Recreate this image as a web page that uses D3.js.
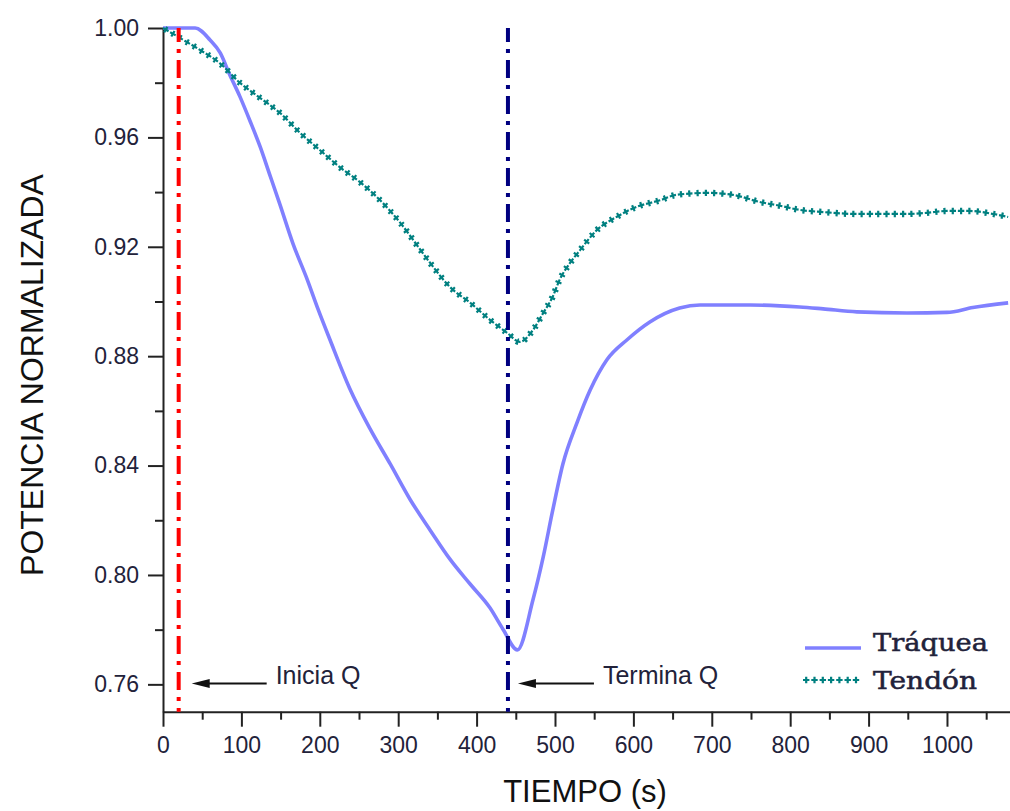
<!DOCTYPE html>
<html>
<head>
<meta charset="utf-8">
<script src="https://cdn.jsdelivr.net/npm/d3@7"></script>
<style>
  html, body { margin: 0; padding: 0; background: #fff; }
  svg { display: block; }
  .tick text { font-family: "Liberation Sans", Arial, sans-serif; font-size: 23px; fill: #22223a; }
</style>
</head>
<body>
<svg id="chart" width="1010" height="811"></svg>
<script>
// Time (s) and normalized power for each tissue
const traqueaTime = [0, 41, 60, 73, 85, 98, 111, 124, 136, 149, 166, 184, 198, 213, 238, 264, 290, 315, 341, 366, 392, 417, 434, 452, 472, 485, 497, 510, 528, 545, 566, 592, 621, 659, 685, 749, 812, 842, 885, 949, 1000, 1033, 1078];
const traqueaValue = [1.000, 1.000, 0.9956, 0.9909, 0.983, 0.975, 0.966, 0.9565, 0.9465, 0.9356, 0.921, 0.908, 0.897, 0.886, 0.8683, 0.8535, 0.8405, 0.8277, 0.8163, 0.8058, 0.7966, 0.7880, 0.7800, 0.7726, 0.791, 0.8066, 0.8235, 0.8405, 0.8556, 0.8677, 0.8786, 0.886, 0.8925, 0.8976, 0.8987, 0.8987, 0.898, 0.8973, 0.8962, 0.8958, 0.8960, 0.8978, 0.8995];

const tendonTime = [0, 22, 47, 73, 98, 124, 149, 175, 200, 226, 251, 277, 302, 328, 341, 366, 392, 417, 439, 455, 472, 485, 497, 506, 519, 532, 553, 579, 604, 634, 655, 694, 727, 761, 787, 812, 842, 885, 949, 974, 1000, 1029, 1059, 1078];
const tendonValue = [1.000, 0.9963, 0.992, 0.987, 0.980, 0.9744, 0.969, 0.9616, 0.9554, 0.949, 0.9437, 0.937, 0.929, 0.919, 0.914, 0.9053, 0.8995, 0.8933, 0.8885, 0.8852, 0.8896, 0.8958, 0.9017, 0.908, 0.914, 0.9188, 0.926, 0.931, 0.9346, 0.937, 0.939, 0.9397, 0.939, 0.9364, 0.935, 0.9335, 0.9327, 0.932, 0.932, 0.9324, 0.9331, 0.9331, 0.932, 0.9309];

// Start and end of the cooling (Q) interval
const markerTimes = [20, 440];
const markerLabels = ["Inicia Q", "Termina Q"];

// Axis ticks
const xMajorTicks = [0, 100, 200, 300, 400, 500, 600, 700, 800, 900, 1000];
const xMinorTicks = [50, 150, 250, 350, 450, 550, 650, 750, 850, 950, 1050];
const yMajorTicks = [0.76, 0.80, 0.84, 0.88, 0.92, 0.96, 1.00];
const yMinorTicks = [0.78, 0.82, 0.86, 0.90, 0.94, 0.98];

const seriesNames = ["Tráquea", "Tendón"];

const svg = d3.select("#chart");
svg.append("rect").attr("width", 1010).attr("height", 811).attr("fill", "#fff");

const x = d3.scaleLinear().domain([0, 1080]).range([163, 1009.7]);
const y = d3.scaleLinear().domain([0.75, 1.0]).range([711.7, 28]);

const axisColor = "#222";

// Minor ticks
svg.append("g").attr("transform", `translate(0,${y(0.75)})`)
  .call(d3.axisBottom(x).tickValues(xMinorTicks).tickSize(8).tickFormat(""))
  .call(g => g.select(".domain").remove())
  .call(g => g.selectAll("line").attr("stroke", axisColor).attr("stroke-width", 2));
svg.append("g").attr("transform", `translate(${x(0)},0)`)
  .call(d3.axisLeft(y).tickValues(yMinorTicks).tickSize(8).tickFormat(""))
  .call(g => g.select(".domain").remove())
  .call(g => g.selectAll("line").attr("stroke", axisColor).attr("stroke-width", 2));

// Major ticks with labels
svg.append("g").attr("transform", `translate(0,${y(0.75)})`)
  .call(d3.axisBottom(x).tickValues(xMajorTicks).tickSize(15).tickSizeOuter(0).tickPadding(10).tickFormat(d3.format("d")))
  .call(g => g.select(".domain").attr("stroke", axisColor).attr("stroke-width", 2))
  .call(g => g.selectAll("line").attr("stroke", axisColor).attr("stroke-width", 2));
svg.append("g").attr("transform", `translate(${x(0)},0)`)
  .call(d3.axisLeft(y).tickValues(yMajorTicks).tickSize(15).tickSizeOuter(0).tickPadding(9).tickFormat(d3.format(".2f")))
  .call(g => g.select(".domain").attr("stroke", axisColor).attr("stroke-width", 2))
  .call(g => g.selectAll("line").attr("stroke", axisColor).attr("stroke-width", 2));

// Axis titles
svg.append("text")
  .attr("x", 585).attr("y", 802)
  .attr("text-anchor", "middle")
  .attr("font-family", "Liberation Sans, Arial, sans-serif")
  .attr("font-size", 31).attr("fill", "#111")
  .text("TIEMPO (s)");
svg.append("text")
  .attr("transform", "translate(43,375) rotate(-90)")
  .attr("text-anchor", "middle")
  .attr("font-family", "Liberation Sans, Arial, sans-serif")
  .attr("font-size", 32).attr("fill", "#111")
  .text("POTENCIA NORMALIZADA");

const line = d3.line().curve(d3.curveMonotoneX);

// Tráquea: solid light-blue line
const traqueaPts = traqueaTime.map((t, i) => [x(t), y(traqueaValue[i])]);
svg.append("path")
  .attr("d", line(traqueaPts))
  .attr("fill", "none")
  .attr("stroke", "#8080ff")
  .attr("stroke-width", 3.6)
  .attr("stroke-linejoin", "round");

// Tendón: row of small crosses built from two dashed strokes
const teal = "#008080";
function crossStroke(sel, d) {
  sel.append("path").attr("d", d).attr("fill", "none")
    .attr("stroke", teal).attr("stroke-width", 2.2)
    .attr("stroke-dasharray", "6.4,1.9");
  sel.append("path").attr("d", d).attr("fill", "none")
    .attr("stroke", teal).attr("stroke-width", 6.4)
    .attr("stroke-dasharray", "2.2,6.1")
    .attr("stroke-dashoffset", -2.1);
}
const tendonPts = tendonTime.map((t, i) => [x(t), y(tendonValue[i])]);
crossStroke(svg.append("g"), line(tendonPts));

// Vertical dash-dot markers
const markerColors = ["#ff0000", "#000080"];
markerTimes.forEach((t, i) => {
  svg.append("line")
    .attr("x1", x(t)).attr("x2", x(t))
    .attr("y1", y(1.0)).attr("y2", y(0.75))
    .attr("stroke", markerColors[i])
    .attr("stroke-width", 4)
    .attr("stroke-dasharray", "18,7,4,7")
    .attr("stroke-dashoffset", 4);
});

// Annotation arrows and labels
const arrowOffsets = [[13, 88], [10, 86]];
markerLabels.forEach((lab, i) => {
  const ay = 683.5;
  const x0 = x(markerTimes[i]) + arrowOffsets[i][0];
  const x1 = x(markerTimes[i]) + arrowOffsets[i][1];
  svg.append("line")
    .attr("x1", x0 + 8).attr("x2", x1)
    .attr("y1", ay).attr("y2", ay)
    .attr("stroke", "#111").attr("stroke-width", 2);
  svg.append("path")
    .attr("d", `M${x0},${ay} L${x0 + 18},${ay - 4.5} L${x0 + 18},${ay + 4.5} Z`)
    .attr("fill", "#111");
  svg.append("text")
    .attr("x", x1 + 9).attr("y", 684)
    .attr("font-family", "Liberation Sans, Arial, sans-serif")
    .attr("font-size", 25).attr("fill", "#22223a")
    .text(lab);
});

// Legend
const legend = svg.append("g");
legend.append("line")
  .attr("x1", 805).attr("x2", 861).attr("y1", 648).attr("y2", 648)
  .attr("stroke", "#8080ff").attr("stroke-width", 3.6);
crossStroke(legend, "M803,680 L861,680");
seriesNames.forEach((name, i) => {
  legend.append("text")
    .attr("x", 873).attr("y", 651 + i * 38)
    .attr("font-family", "DejaVu Serif, Liberation Serif, serif")
    .attr("font-size", 24).attr("fill", "#22223a")
    .attr("stroke", "#22223a").attr("stroke-width", 0.5)
    .attr("textLength", i === 0 ? 115 : 104)
    .attr("lengthAdjust", "spacingAndGlyphs")
    .text(name);
});
</script>
</body>
</html>
